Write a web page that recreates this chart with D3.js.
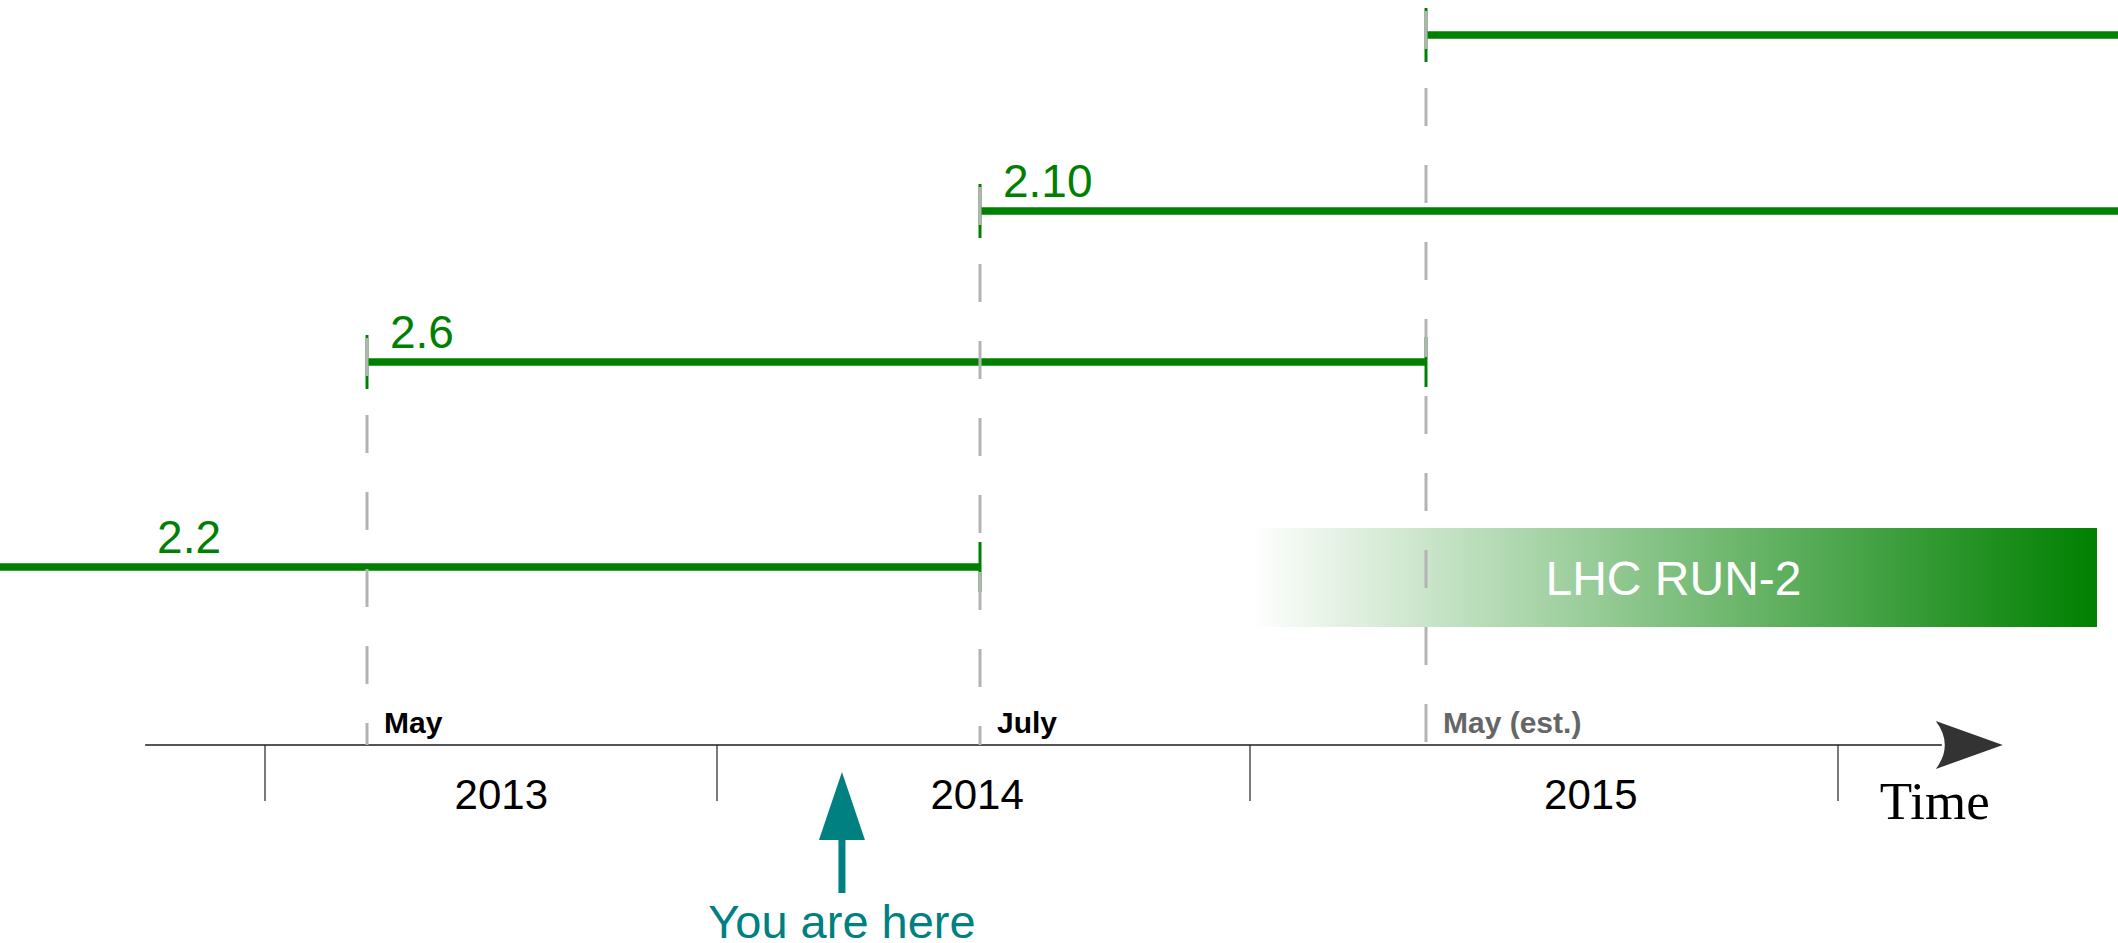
<!DOCTYPE html>
<html><head><meta charset="utf-8">
<script src="https://cdn.jsdelivr.net/npm/d3@7"></script>
<style>html,body{margin:0;padding:0;background:#fff;overflow:hidden}</style>
</head><body><svg id="chart" width="2118" height="943"></svg>
<script>
// ---------- DATA ----------
const versionNames      = ["2.2", "2.6", "2.10", ""];
const versionStarts     = ["2012-01-01", "2013-05-01", "2014-07-01", "2015-05-01"];
const versionEnds       = ["2014-07-01", "2015-05-01", "2017-01-01", "2017-01-01"];
const versionStartOpen  = [true, false, false, false];
const versionEndOpen    = [false, false, true, true];
const versionLabelDates = ["2012-08-27", null, null, null];

const milestoneDates     = ["2013-05-01", "2014-07-01", "2015-05-01"];
const milestoneLabels    = ["May", "July", "May (est.)"];
const milestoneEstimated = [false, false, true];
const milestoneVersion   = ["2.6", "2.10", ""];

const yearBoundaries = ["2013-01-01", "2014-01-01", "2015-01-01", "2016-01-01"];
const yearLabels     = ["2013", "2014", "2015"];
const yearLabelDates = ["2013-08-03", "2014-06-29", "2015-08-07"];

const run2Label = "LHC RUN-2";
const run2Start = "2015-01-01";
const run2End   = "2016-06-03";

const youAreHereDate  = "2014-03-28";
const youAreHereLabel = "You are here";
const axisTitle       = "Time";
const axisStartDate   = "2012-08-13";
const axisEndDate     = "2016-04-08";

// ---------- LAYOUT ----------
const W = 2118, H = 943;
const parse = d3.timeParse("%Y-%m-%d");
const GREEN = "#008000", TEAL = "#008080", DASH = "#b3b3b3";
const xStops = [265, 367, 717, 980, 1250, 1426, 1838];
const levelY = [567, 362, 211, 35];
const axisY = 745;
const SANS = "Liberation Sans, Arial, Helvetica, sans-serif";

const xBreaks = [yearBoundaries[0], milestoneDates[0], yearBoundaries[1], milestoneDates[1],
                 yearBoundaries[2], milestoneDates[2], yearBoundaries[3]].map(parse);
const x = d3.scaleTime().domain(xBreaks).range(xStops);
const y = d3.scaleOrdinal().domain(versionNames).range(levelY);

const svg = d3.select("#chart");
const defs = svg.append("defs");
const grad = defs.append("linearGradient").attr("id", "run2grad")
  .attr("x1", "0%").attr("x2", "100%").attr("y1", "0%").attr("y2", "0%");
grad.append("stop").attr("offset", "0%").attr("stop-color", "#ffffff");
grad.append("stop").attr("offset", "100%").attr("stop-color", GREEN);

const versions = versionNames.map((n, i) => ({
  name: n, start: parse(versionStarts[i]), end: parse(versionEnds[i]),
  startOpen: versionStartOpen[i], endOpen: versionEndOpen[i],
  labelDate: versionLabelDates[i] ? parse(versionLabelDates[i]) : null
}));
const milestones = milestoneDates.map((d, i) => ({
  date: parse(d), label: milestoneLabels[i], est: milestoneEstimated[i], version: milestoneVersion[i]
}));

// ---------- AXIS ----------
const ax = svg.append("g");
const axStart = x(parse(axisStartDate)), axEnd = x(parse(axisEndDate));
const headLen = 67, headHalf = 24;
ax.append("line").attr("x1", axStart).attr("x2", axEnd - headLen + 6)
  .attr("y1", axisY).attr("y2", axisY).attr("stroke", "#555").attr("stroke-width", 2);
ax.append("path")
  .attr("d", `M${axEnd},${axisY} L${axEnd - headLen},${axisY - headHalf} Q${axEnd - headLen + 18},${axisY} ${axEnd - headLen},${axisY + headHalf} Z`)
  .attr("fill", "#333");
ax.selectAll(".ytick").data(yearBoundaries.map(parse)).join("line")
  .attr("x1", d => x(d)).attr("x2", d => x(d))
  .attr("y1", axisY).attr("y2", axisY + 56)
  .attr("stroke", "#222").attr("stroke-width", 1.2);
ax.selectAll(".ylab").data(yearLabels).join("text")
  .attr("x", (d, i) => x(parse(yearLabelDates[i]))).attr("y", axisY + 64)
  .attr("text-anchor", "middle").attr("font-family", SANS)
  .attr("font-size", 42).attr("fill", "#000").text(d => d);
ax.append("text").attr("x", axEnd - headLen - 56).attr("y", axisY + 74)
  .attr("font-family", "Liberation Serif, Times New Roman, serif")
  .attr("font-size", 53).attr("fill", "#000").text(axisTitle);

// ---------- RUN-2 BOX ----------
const rx0 = x(parse(run2Start)), rx1 = x(parse(run2End));
svg.append("rect").attr("x", rx0).attr("y", 528).attr("width", rx1 - rx0).attr("height", 99)
  .attr("fill", "url(#run2grad)");
svg.append("text").attr("x", (rx0 + rx1) / 2).attr("y", 595)
  .attr("text-anchor", "middle").attr("font-family", SANS)
  .attr("font-size", 48).attr("fill", "#fff").text(run2Label);

// ---------- VERSION LINES ----------
const vg = svg.append("g");
vg.selectAll(".vline").data(versions).join("line")
  .attr("x1", d => x(d.start)).attr("x2", d => x(d.end))
  .attr("y1", d => y(d.name)).attr("y2", d => y(d.name))
  .attr("stroke", GREEN).attr("stroke-width", 7.5);
vg.selectAll(".stick").data(versions.filter(d => !d.startOpen)).join("line")
  .attr("x1", d => x(d.start)).attr("x2", d => x(d.start))
  .attr("y1", d => y(d.name) - 27).attr("y2", d => y(d.name) + 27)
  .attr("stroke", GREEN).attr("stroke-width", 3);
vg.selectAll(".etick").data(versions.filter(d => !d.endOpen)).join("line")
  .attr("x1", d => x(d.end)).attr("x2", d => x(d.end))
  .attr("y1", d => y(d.name) - 25).attr("y2", d => y(d.name) + 25)
  .attr("stroke", GREEN).attr("stroke-width", 3);
vg.selectAll(".vlab").data(versions.filter(d => d.name)).join("text")
  .attr("x", d => d.labelDate ? x(d.labelDate) : x(d.start) + 23)
  .attr("y", d => y(d.name) - 14)
  .attr("font-family", SANS)
  .attr("font-size", 46).attr("fill", GREEN).text(d => d.name);

// ---------- MILESTONES ----------
const mg = svg.append("g");
mg.selectAll(".mline").data(milestones).join("line")
  .attr("x1", d => x(d.date)).attr("x2", d => x(d.date))
  .attr("y1", d => y(d.version) - 24).attr("y2", axisY)
  .attr("stroke", DASH).attr("stroke-width", 3).attr("stroke-dasharray", "38,39");
mg.selectAll(".mlab").data(milestones).join("text")
  .attr("x", d => x(d.date) + 17).attr("y", axisY - 12)
  .attr("font-family", SANS).attr("font-weight", "bold")
  .attr("font-size", 30).attr("fill", d => d.est ? "#666" : "#000").text(d => d.label);

// ---------- YOU ARE HERE ----------
const yx = x(parse(youAreHereDate));
const yh = svg.append("g");
yh.append("path").attr("d", `M${yx},772 L${yx - 23},840 L${yx + 23},840 Z`).attr("fill", TEAL);
yh.append("line").attr("x1", yx).attr("x2", yx).attr("y1", 838).attr("y2", 893)
  .attr("stroke", TEAL).attr("stroke-width", 7);
yh.append("text").attr("x", yx).attr("y", 938).attr("text-anchor", "middle")
  .attr("font-family", SANS)
  .attr("font-size", 47).attr("fill", TEAL).text(youAreHereLabel);
</script></body></html>
